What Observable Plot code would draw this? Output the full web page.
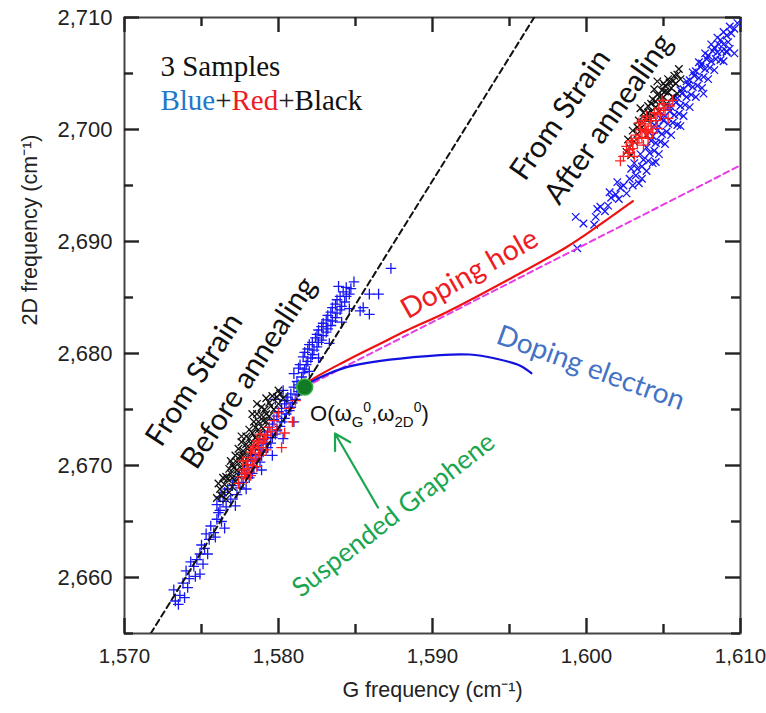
<!DOCTYPE html>
<html><head><meta charset="utf-8">
<script src="https://cdn.jsdelivr.net/npm/d3@7"></script>
<script src="https://cdn.jsdelivr.net/npm/@observablehq/plot@0.6"></script>
<style>body{margin:0;background:#fff;} #chart{width:766px;height:713px;}</style>
</head><body><div id="chart"></div>
<script>
// ---- axis ticks ----
const xMajor = [1570, 1580, 1590, 1600, 1610];
const xMinor = [1575, 1585, 1595, 1605];
const yMajor = [2660, 2670, 2680, 2690, 2700, 2710];
const yMinor = [2655, 2665, 2675, 2685, 2695, 2705];
const xLabel = "G frequency (cm\u207B\u00B9)";
const yLabel = "2D frequency (cm\u207B\u00B9)";

// ---- lines [G, 2D] ----
const strainLineG = [1571.7, 1596.6];
const strainLineD = [2655.0, 2710.0];
const magentaG = [1581.7, 1610.0];
const magentaD = [2677.0, 2696.8];
const holeG = [1581.7, 1581.94, 1584.43, 1586.59, 1588.32, 1590.91, 1595.21, 1598.69, 1600.64, 1603.01];
const holeD = [2677.0, 2677.44, 2679.38, 2680.87, 2682.05, 2683.69, 2686.81, 2689.49, 2691.28, 2693.60];
const electronG = [1581.7, 1581.94, 1584.43, 1588.75, 1592.42, 1594.15, 1595.66, 1596.42];
const electronD = [2677.0, 2677.3, 2678.78, 2679.67, 2679.91, 2679.53, 2678.93, 2678.24];
const originPoint = [[1581.7, 2677.0]];

// ---- scatter samples [G, 2D] ----
const blueBefore = [
[1573.3,2657.9],[1573.6,2658.4],[1573.2,2658.9],[1573.9,2658.2],[1573.8,2659.5],[1574.2,2659.9],[1574.0,2660.6],[1574.5,2661.0],[1574.3,2661.4],[1574.9,2660.3],[1574.9,2662.1],[1575.2,2662.6],[1575.5,2663.4],[1575.3,2663.9],[1575.8,2664.0],[1575.6,2664.6],[1576.0,2665.2],[1576.3,2665.0],[1576.1,2665.8],[1576.6,2666.3],[1576.4,2666.8],
[1573.5,2657.6],[1574.1,2659.1],[1574.6,2660.1],[1574.7,2661.6],[1575.0,2662.9],[1575.4,2662.1],[1575.9,2663.6],[1576.5,2664.4],[1575.1,2661.2],[1576.2,2666.0],
[1576.0,2666.5],[1576.9,2667.0],[1576.5,2667.6],[1577.3,2667.4],[1577.0,2668.2],[1577.7,2668.5],[1577.4,2669.0],[1578.1,2668.9],[1577.8,2669.6],[1578.4,2669.8],[1578.2,2670.4],[1578.8,2670.3],[1578.5,2671.0],[1579.0,2671.2],[1578.7,2671.8],[1579.3,2671.6],[1579.0,2672.3],[1579.6,2672.5],[1579.3,2673.0],[1579.9,2673.1],[1579.6,2673.7],[1580.2,2673.9],[1579.9,2674.4],[1580.5,2674.6],[1580.2,2675.1],[1580.8,2675.2],[1580.5,2675.8],[1581.1,2675.9],[1580.8,2676.4],[1581.3,2676.6],[1581.0,2677.0],[1577.9,2667.9],[1578.9,2669.6],[1579.6,2670.9],[1580.3,2672.4],[1581.0,2673.9],[1577.2,2666.4],
[1576.2,2667.2],[1576.7,2667.9],[1577.5,2668.0],[1577.1,2668.7],[1577.9,2669.2],[1578.3,2669.3],[1577.6,2669.3],[1578.0,2670.0],[1578.6,2670.5],[1578.9,2670.9],[1578.3,2670.9],[1579.2,2671.9],[1578.8,2671.4],[1579.5,2672.0],[1579.1,2672.7],[1579.8,2672.8],[1579.4,2673.4],[1580.1,2673.5],[1579.7,2674.1],[1580.4,2674.2],[1580.0,2674.8],[1580.7,2674.9],[1580.4,2675.5],[1580.9,2675.6],[1580.6,2676.1],[1581.2,2676.3],[1581.4,2676.9],[1580.3,2676.7],[1579.8,2675.9],
[1581.2,2677.5],[1581.5,2677.9],[1581.0,2678.2],[1581.7,2678.6],[1581.4,2679.0],[1581.9,2679.3],[1581.6,2679.7],[1582.2,2679.9],[1581.9,2680.4],[1582.5,2680.6],[1582.2,2681.0],[1582.8,2681.2],[1582.5,2681.7],[1583.1,2681.9],[1582.8,2682.4],[1583.4,2682.5],[1583.1,2683.0],[1583.7,2683.2],[1583.4,2683.7],[1584.0,2683.9],[1583.7,2684.4],[1584.3,2684.6],[1584.0,2685.1],[1584.6,2685.3],[1584.4,2685.9],[1582.0,2678.4],[1582.6,2679.6],[1583.3,2680.9],[1584.1,2682.8],[1584.6,2684.0],[1584.9,2686.4],
[1581.3,2677.2],[1581.6,2678.3],[1581.3,2678.7],[1581.8,2679.0],[1582.1,2679.6],[1581.7,2680.1],[1582.3,2680.3],[1582.0,2680.8],[1582.6,2681.0],[1582.4,2681.4],[1582.9,2681.6],[1582.6,2682.1],[1583.2,2682.2],[1582.9,2682.7],[1583.5,2682.9],[1583.2,2683.4],[1583.8,2683.6],[1583.5,2684.1],[1584.1,2684.2],[1583.8,2684.8],[1584.4,2685.1],[1584.2,2685.5],[1584.7,2685.8],[1583.9,2686.0],
[1585.3,2683.8],[1585.9,2683.5],[1585.5,2684.1],[1585.9,2685.3],[1586.5,2685.3],[1587.3,2687.6]
];
const blackBefore = [
[1576.3,2667.3],[1576.6,2667.0],[1576.2,2667.9],[1576.8,2667.6],[1576.5,2668.3],[1577.0,2668.1],[1576.7,2668.8],[1577.2,2668.6],[1576.9,2669.3],[1577.4,2669.1],[1577.1,2669.8],[1577.6,2669.7],[1577.3,2670.3],[1577.8,2670.2],[1577.5,2670.8],[1578.0,2670.7],[1577.7,2671.3],[1578.2,2671.2],[1577.9,2671.9],[1578.4,2671.7],[1578.1,2672.4],[1578.6,2672.3],[1578.3,2672.9],[1578.8,2672.8],[1578.5,2673.4],[1579.0,2673.3],[1578.7,2673.9],[1579.2,2673.9],[1578.9,2674.5],[1579.4,2674.4],[1579.1,2675.0],[1579.7,2675.0],[1579.4,2675.6],[1580.0,2675.5],[1579.6,2676.2],[1580.3,2676.0],[1578.6,2675.5],[1578.3,2674.6],[1577.6,2672.6],[1576.9,2670.4],[1576.4,2668.9],[1580.0,2676.7],
[1576.4,2667.6],[1576.1,2668.4],[1576.6,2669.0],[1577.0,2668.9],[1576.8,2669.7],[1577.3,2669.6],[1577.0,2670.1],[1577.5,2670.3],[1577.2,2670.9],[1577.7,2670.9],[1577.4,2671.5],[1578.0,2671.5],[1577.6,2672.1],[1578.2,2672.0],[1577.9,2672.6],[1578.5,2672.5],[1578.1,2673.2],[1578.7,2673.2],[1578.4,2673.9],[1579.0,2674.0],[1578.6,2674.6],[1579.2,2674.6],[1578.9,2675.2],[1579.5,2675.3],[1579.2,2676.0],[1579.9,2676.1],[1580.1,2676.4],[1576.0,2667.1]
];
const redBefore = [
[1577.6,2669.0],[1577.9,2668.8],[1577.7,2669.6],[1578.1,2669.4],[1577.9,2670.1],[1578.3,2670.0],[1578.0,2670.7],[1578.5,2670.6],[1578.2,2671.2],[1578.7,2671.1],[1578.4,2671.7],[1578.9,2671.6],[1578.6,2672.2],[1579.0,2672.1],[1578.8,2672.8],[1579.2,2672.7],[1579.4,2673.4],[1579.7,2674.0],[1580.0,2674.7],[1577.4,2668.4],[1578.2,2669.1],[1578.6,2669.9],[1577.7,2670.4],[1579.2,2671.4],[1580.4,2672.9],[1580.9,2673.9],[1580.7,2675.1],[1580.2,2671.6],[1581.1,2675.8],[1579.9,2673.2],
[1578.0,2669.7],[1578.4,2670.4],[1578.8,2670.9],[1578.3,2671.5],[1578.7,2672.0],[1579.1,2672.4],[1577.8,2669.3],[1579.5,2673.0]
];
const blueAfter = [
[1599.3,2692.2],[1599.8,2691.6],[1599.4,2689.4],[1600.5,2691.5],[1600.6,2692.2],[1600.7,2692.9],[1600.9,2693.1],[1601.4,2693.2],[1601.6,2693.9],[1601.5,2694.4],[1601.9,2694.2],[1602.2,2694.8],[1602.0,2695.3],[1602.4,2695.0],
[1602.8,2695.6],[1602.9,2696.5],[1603.2,2695.9],[1603.1,2697.0],[1603.3,2696.5],[1603.6,2696.7],[1603.5,2697.8],[1603.7,2697.3],
[1604.0,2697.2],[1603.9,2698.4],[1604.1,2697.9],[1604.2,2699.0],[1604.4,2698.1],[1604.3,2699.4],[1604.5,2698.8],[1604.6,2699.9],
[1604.8,2698.9],[1604.7,2700.3],[1604.9,2699.6],[1605.0,2700.8],[1605.2,2699.8],[1605.1,2701.2],[1605.3,2700.5],[1605.4,2701.6],
[1605.6,2700.6],[1605.5,2702.0],[1605.7,2701.3],[1605.8,2702.4],[1606.0,2701.4],[1605.9,2702.8],[1606.1,2702.1],[1606.2,2703.2],
[1606.4,2702.2],[1606.3,2703.6],[1606.5,2702.9],[1606.6,2704.0],[1606.8,2703.1],[1606.7,2704.4],[1606.9,2703.8],[1607.0,2704.8],
[1607.2,2703.9],[1607.1,2705.2],[1607.3,2704.6],[1607.4,2705.6],[1607.6,2704.7],[1607.5,2705.9],[1607.7,2705.4],[1607.8,2706.3],
[1608.0,2705.5],[1607.9,2706.6],[1608.1,2706.1],[1608.2,2707.0],[1608.4,2706.3],[1608.3,2707.3],[1608.5,2706.9],[1608.6,2707.6],
[1608.8,2707.0],[1608.7,2708.0],[1608.9,2707.6],[1609.2,2707.8],[1609.1,2708.4],[1609.4,2708.6],[1609.6,2709.0],[1609.8,2709.5],[1609.3,2707.2],
[1607.6,2703.2],[1606.1,2700.3],[1604.5,2697.1],[1603.6,2695.6],[1608.9,2706.1],[1609.1,2706.9],[1609.6,2706.8],
[1603.4,2695.2],[1603.9,2696.3],[1604.3,2697.0],[1604.7,2697.8],[1605.1,2698.7],[1605.5,2699.5],[1605.9,2700.4],[1606.3,2701.2],[1606.7,2702.0],[1607.1,2702.9],[1607.5,2703.7],[1607.9,2704.5],[1608.3,2705.3],[1608.7,2706.2],[1609.1,2707.0],
[1604.4,2700.4],[1604.8,2701.0],[1605.3,2702.0],[1605.7,2702.8],[1606.1,2703.5],[1606.5,2704.3],[1606.9,2705.1],[1607.3,2706.0],[1607.7,2706.8],[1608.1,2707.6],[1608.5,2708.2],[1608.9,2708.7],[1609.3,2709.2],
[1603.0,2695.0],[1602.6,2694.3],[1602.1,2693.8],[1601.2,2692.7]
];
const blackAfter = [
[1602.8,2698.4],[1603.1,2698.9],[1603.3,2699.6],[1603.0,2699.9],[1603.6,2700.2],[1603.4,2700.8],[1603.9,2700.9],[1603.7,2701.5],[1604.2,2701.6],[1604.0,2702.1],[1604.5,2702.0],[1604.3,2702.7],[1604.8,2702.4],[1604.6,2703.1],[1605.0,2702.9],[1604.9,2703.5],[1605.3,2703.3],[1605.1,2703.9],[1605.5,2703.7],[1605.4,2704.2],[1605.8,2704.1],[1606.1,2704.5],[1605.7,2704.8],[1604.7,2701.6],[1605.2,2702.3],[1605.6,2702.9],[1604.1,2701.0],[1603.5,2701.9],[1604.4,2703.6],[1605.9,2703.2],[1603.9,2699.5],[1602.9,2697.7],[1604.6,2704.3],[1606.0,2705.4],
[1604.2,2702.3],[1604.5,2702.5],[1604.8,2703.0],[1605.1,2703.4],[1605.0,2704.1],[1605.3,2704.5],[1605.6,2704.3],[1604.0,2701.5],[1603.8,2701.0],[1603.3,2700.2],[1602.7,2699.1],[1602.6,2698.0],[1605.9,2704.9],[1604.3,2701.2]
];
const redAfter = [
[1602.4,2697.6],[1602.7,2697.9],[1602.6,2698.5],[1603.0,2698.3],[1602.9,2699.0],[1603.3,2698.8],[1603.2,2699.5],[1603.6,2699.3],[1603.5,2700.0],[1603.9,2699.8],[1603.8,2700.5],[1604.2,2700.3],[1604.1,2701.0],[1604.5,2700.8],[1604.4,2701.5],[1604.8,2701.3],[1604.7,2701.9],[1605.1,2701.7],[1605.0,2702.3],[1605.4,2702.1],[1603.4,2700.6],[1603.9,2701.2],[1604.6,2700.1],[1605.3,2701.0],[1603.1,2697.6],[1602.2,2697.2],[1604.0,2699.2],[1603.7,2698.6],[1605.6,2702.6],[1604.3,2699.7],
[1603.0,2698.8],[1603.4,2699.2],[1603.8,2699.9],[1604.2,2700.8],[1604.6,2701.4],[1605.0,2701.9],[1603.6,2700.8],[1604.0,2700.0],[1602.8,2698.2],[1604.9,2702.6]
];

// ---- annotation texts ----
const samplesTitle = "3 Samples";
const samplesParts = ["Blue", "+", "Red", "+", "Black"];
const samplesPartColors = ["#1f78c8", "#222", "#ee1c24", "#222", "#111"];
const beforeText = "From Strain\nBefore annealing";
const afterText = "From Strain\nAfter annealing";
const holeText = "Doping hole";
const electronText = "Doping electron";
const suspendedText = "Suspended Graphene";
const originParts = ["O(\u03C9", "G", "0", ",\u03C9", "2D", "0", ")"];

const pts = a => a.map(([g, d]) => ({g, d}));
const line = (G, D) => G.map((g, i) => ({g, d: D[i]}));

const BLUE = "#1717f5", RED = "#ff1f1f", BLK = "#111";
const sym = {x: "g", y: "d", r: 3.5, strokeWidth: 1.3};

// frame geometry (pixels) used only to express inward tick lengths as rule insets
const W = 766, H = 713, ML = 124, MR = 26, MT = 17, MB = 80;
const FW = W - ML - MR, FH = H - MT - MB;
const MAJ = 15, MIN = 9;
const tk = {stroke: "#222", strokeWidth: 2.4};

const plot = Plot.plot({
  width: W, height: H,
  marginLeft: ML, marginRight: MR, marginTop: MT, marginBottom: MB,
  style: {fontFamily: "'Liberation Sans', Arial, sans-serif", fontSize: "22px", color: "#222", background: "#fff"},
  x: {domain: [1570, 1610]},
  y: {domain: [2655, 2710]},
  marks: [
    // tick labels
    Plot.axisX(xMajor, {anchor: "bottom", tickSize: 0, tickPadding: 15, tickFormat: d3.format(","), label: null, fontSize: 20.5}),
    Plot.axisY(yMajor, {anchor: "left", tickSize: 0, tickPadding: 12, tickFormat: d3.format(","), label: null, fontSize: 22}),
    // axis titles
    Plot.text([xLabel], {frameAnchor: "bottom", dy: 63, text: d => d, fontSize: 21.5, fill: "#222"}),
    Plot.text([yLabel], {frameAnchor: "left", dx: -94, rotate: -90, text: d => d, fontSize: 21.5, fill: "#222"}),
    Plot.frame({stroke: "#444", strokeWidth: 2}),
    // inward ticks on all four sides
    Plot.ruleX(xMajor, {...tk, x: d => d, insetTop: FH - MAJ}),
    Plot.ruleX(xMinor, {...tk, x: d => d, insetTop: FH - MIN}),
    Plot.ruleX(xMajor, {...tk, x: d => d, insetBottom: FH - MAJ}),
    Plot.ruleX(xMinor, {...tk, x: d => d, insetBottom: FH - MIN}),
    Plot.ruleY(yMajor, {...tk, y: d => d, insetRight: FW - MAJ}),
    Plot.ruleY(yMinor, {...tk, y: d => d, insetRight: FW - MIN}),
    Plot.ruleY(yMajor, {...tk, y: d => d, insetLeft: FW - MAJ}),
    Plot.ruleY(yMinor, {...tk, y: d => d, insetLeft: FW - MIN}),

    // scatter
    Plot.dot(pts(blueBefore), {...sym, symbol: "plus", stroke: BLUE}),
    Plot.dot(pts(blueAfter), {...sym, symbol: "times", stroke: BLUE}),
    Plot.dot(pts(blackBefore), {...sym, symbol: "times", stroke: BLK}),
    Plot.dot(pts(blackAfter), {...sym, symbol: "times", stroke: BLK}),
    Plot.dot(pts(redBefore), {...sym, symbol: "plus", stroke: RED}),
    Plot.dot(pts(redAfter), {...sym, symbol: "plus", stroke: RED}),

    // lines
    Plot.line(line(strainLineG, strainLineD), {x: "g", y: "d", stroke: "#111", strokeWidth: 2, strokeDasharray: "6,4", clip: true}),
    Plot.line(line(magentaG, magentaD), {x: "g", y: "d", stroke: "#e63ce6", strokeWidth: 2, strokeDasharray: "6,4", clip: true}),
    Plot.line(line(holeG, holeD), {x: "g", y: "d", stroke: "#ee1111", strokeWidth: 2.2, curve: "catmull-rom"}),
    Plot.line(line(electronG, electronD), {x: "g", y: "d", stroke: "#1212e0", strokeWidth: 2.2, curve: "catmull-rom"}),
    Plot.dot(pts(originPoint), {x: "g", y: "d", r: 8, fill: "#127a24", stroke: "#2fae3f", strokeWidth: 1.5}),

    // annotations
    Plot.text([samplesTitle], {x: 1572.33, y: 2704.82, text: d => d, textAnchor: "start", lineAnchor: "bottom", fontFamily: "'Liberation Serif', 'Times New Roman', serif", fontSize: 29, fill: "#111"}),
    Plot.text([samplesParts.join("")], {x: 1572.33, y: 2701.7, text: d => d, textAnchor: "start", lineAnchor: "bottom", fontFamily: "'Liberation Serif', 'Times New Roman', serif", fontSize: 29, fill: "#111"}),
    Plot.text([beforeText], {x: 1572.8, y: 2671.18, text: d => d, rotate: -57, textAnchor: "start", lineAnchor: "middle", lineHeight: 1.4, fontFamily: "Lato, 'Open Sans', sans-serif", fontSize: 30, fill: "#111"}),
    Plot.text([afterText], {x: 1596.4, y: 2694.9, text: d => d, rotate: -55, textAnchor: "start", lineAnchor: "middle", lineHeight: 1.4, fontFamily: "Lato, 'Open Sans', sans-serif", fontSize: 30, fill: "#111"}),
    Plot.text([holeText], {x: 1592.4, y: 2687.1, text: d => d, rotate: -29.5, fontFamily: "Lato, 'Open Sans', sans-serif", fontSize: 28.5, fill: "#ee1c24"}),
    Plot.text([electronText], {x: 1600.27, y: 2678.7, text: d => d, rotate: 20, fontFamily: "Lato, 'Open Sans', sans-serif", fontSize: 28, fill: "#4472c4"}),
    Plot.text([suspendedText], {x: 1587.48, y: 2665.57, text: d => d, rotate: -38, fontFamily: "Lato, 'Open Sans', sans-serif", fontSize: 26.5, fill: "#1aa550"}),
    Plot.arrow([0], {x1: 1586.46, y1: 2666.25, x2: 1583.67, y2: 2672.86, stroke: "#1aa550", strokeWidth: 2.2, headLength: 12}),
    Plot.text([originParts.join("")], {x: 1582.05, y: 2674.0, text: d => d, textAnchor: "start", lineAnchor: "bottom", fontFamily: "'Liberation Sans', Arial, sans-serif", fontSize: 22, fill: "#111"})
  ]
});
document.getElementById("chart").appendChild(plot);

// split a text element into styled tspans (text stays real text)
function splitInto(textNode, parts, styler) {
  textNode.textContent = "";
  parts.forEach((p, i) => {
    const ts = document.createElementNS("http://www.w3.org/2000/svg", "tspan");
    ts.textContent = p;
    styler(ts, i);
    textNode.appendChild(ts);
  });
}
const allTexts = Array.from(plot.querySelectorAll("text"));
const colText = allTexts.find(t => t.textContent === samplesParts.join(""));
if (colText) splitInto(colText, samplesParts, (ts, i) => ts.setAttribute("fill", samplesPartColors[i]));

const oText = allTexts.find(t => t.textContent === originParts.join(""));
const oShift = [0, 6, -15, 9, 6, -15, 9];
const oSize = [null, 15, 14, null, 15, 14, null];
if (oText) splitInto(oText, originParts, (ts, i) => {
  if (oShift[i]) ts.setAttribute("dy", oShift[i]);
  if (oSize[i]) ts.setAttribute("font-size", oSize[i]);
});
</script>
</body></html>
